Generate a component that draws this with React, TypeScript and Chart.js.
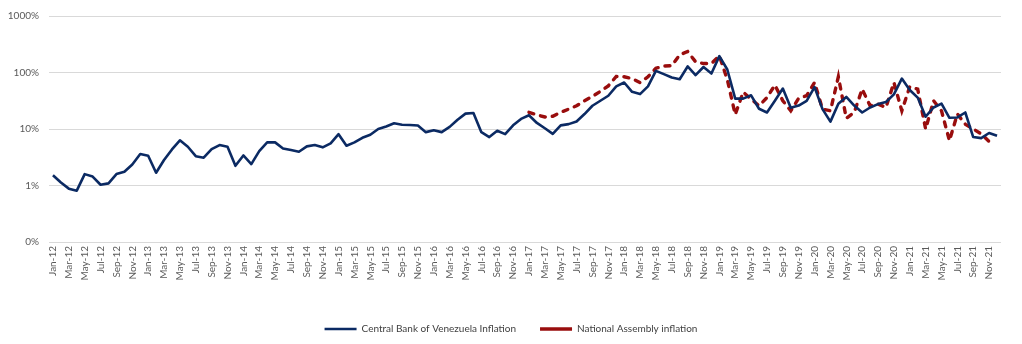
import React, { useEffect, useRef } from 'react';
import { Chart, registerables } from 'chart.js';

Chart.register(...registerables);

const monthNames = ['Jan', 'Feb', 'Mar', 'Apr', 'May', 'Jun', 'Jul', 'Aug', 'Sep', 'Oct', 'Nov', 'Dec'];
const yearSuffixes = ['12', '13', '14', '15', '16', '17', '18', '19', '20', '21'];
const categories: string[] = yearSuffixes.flatMap((y) => monthNames.map((m) => `${m}-${y}`));

// Monthly inflation, % (log scale)
const centralBankInflation: number[] = [
  1.52, 1.13, 0.88, 0.81, 1.59, 1.44, 1.03, 1.09, 1.59, 1.75, 2.36, 3.6,
  3.36, 1.68, 2.82, 4.35, 6.3, 4.85, 3.3, 3.1, 4.4, 5.2, 4.85, 2.23,
  3.4, 2.39, 4.07, 5.8, 5.8, 4.53, 4.24, 3.96, 4.93, 5.2, 4.73, 5.56,
  8.1, 5.06, 5.8, 7.0, 7.9, 10.0, 11.1, 12.6, 11.9, 11.8, 11.5, 8.8,
  9.5, 8.8, 10.9, 14.6, 18.7, 19.2, 8.8, 7.2, 9.3, 8.1, 11.6, 15.1,
  17.5, 12.8, 10.3, 8.2, 11.6, 12.2, 13.6, 18.4, 25.8, 31.6, 38.8, 56.7,
  66.5, 45.5, 41.5, 56.7, 107, 93.5, 81.5, 76, 128, 90, 125, 96,
  195, 113, 34.5, 34.5, 39.5, 22.8, 19.6, 31.6, 52, 23.7, 26, 31.5,
  55, 22.5, 13.5, 28, 37, 26, 19.6, 24, 27.6, 30, 41, 78,
  49, 36, 16.5, 24, 28.2, 15.8, 16, 19.6, 7.2, 6.9, 8.5, 7.6,
];

const nationalAssemblyInflation: (number | null)[] = [
  null, null, null, null, null, null, null, null, null, null, null, null,
  null, null, null, null, null, null, null, null, null, null, null, null,
  null, null, null, null, null, null, null, null, null, null, null, null,
  null, null, null, null, null, null, null, null, null, null, null, null,
  null, null, null, null, null, null, null, null, null, null, null, null,
  19.7, 17.8, 16.3, 16.8, 19.7, 22.5, 25.8, 31.6, 37.8, 46.2, 58, 85,
  84, 78, 66.5, 84, 119, 130, 132, 205, 235, 155, 144, 144,
  197, 75, 18, 45, 33.8, 25.8, 36, 60, 31.6, 21, 35, 38.8,
  66.5, 22.5, 21, 84, 15.5, 19.7, 50.8, 25.8, 27.6, 24, 66.5, 21,
  56, 50.8, 10, 31.6, 21, 6.2, 18.4, 12.2, 10, 8.2, 6.0, null,
];

const yTickValues = [0.1, 1, 10, 100, 1000];

const FONT = 'Lato, "Liberation Sans", sans-serif';
const TEXT = '#595959';

export default function App() {
  const canvasRef = useRef<HTMLCanvasElement | null>(null);

  useEffect(() => {
    if (!canvasRef.current) return;
    const chart = new Chart(canvasRef.current, {
      type: 'line',
      data: {
        labels: categories,
        datasets: [
          {
            label: 'Central Bank of Venezuela Inflation',
            data: centralBankInflation,
            borderColor: '#0b2a63',
            backgroundColor: '#0b2a63',
            borderWidth: 2.6,
            pointRadius: 0,
            tension: 0,
            borderJoinStyle: 'round',
          },
          {
            label: 'National Assembly inflation',
            data: nationalAssemblyInflation,
            borderColor: '#990d0d',
            backgroundColor: '#990d0d',
            borderWidth: 3.4,
            borderDash: [5, 7],
            borderCapStyle: 'round',
            pointRadius: 0,
            tension: 0,
            spanGaps: false,
          },
        ],
      },
      options: {
        animation: false,
        responsive: true,
        maintainAspectRatio: false,
        layout: { padding: { top: 14, right: 0, left: 0, bottom: 0 } },
        plugins: {
          tooltip: { enabled: false },
          legend: {
            position: 'bottom',
            labels: {
              usePointStyle: true,
              pointStyle: 'line',
              pointStyleWidth: 32,
              padding: 24,
              color: '#404040',
              font: { family: FONT, size: 10 },
            },
          },
        },
        scales: {
          x: {
            type: 'category',
            offset: true,
            grid: { display: false, drawTicks: false },
            border: { display: false },
            ticks: {
              autoSkip: false,
              minRotation: 90,
              maxRotation: 90,
              padding: 4,
              color: TEXT,
              font: { family: FONT, size: 10 },
              callback: (_v: any, i: number) => (i % 2 === 0 ? categories[i] : ''),
            },
            afterFit: (axis: any) => {
              const lh = axis.chart.legend ? axis.chart.legend.height : 47;
              axis.height = 344 - 242 - lh;
            },
          },
          y: {
            type: 'logarithmic',
            min: 0.1,
            max: 1000,
            grid: { color: '#d9d9d9', lineWidth: 1, drawTicks: false },
            border: { display: false },
            afterBuildTicks: (axis: any) => {
              axis.ticks = yTickValues.map((v) => ({ value: v }));
            },
            afterFit: (axis: any) => {
              axis.width = 49;
            },
            ticks: {
              padding: 10,
              color: TEXT,
              font: { family: FONT, size: 10 },
              callback: (v: any) => (Number(v) < 1 ? '0%' : `${Number(v)}%`),
            },
          },
          spacer: {
            type: 'linear',
            position: 'right',
            display: true,
            grid: { display: false, drawTicks: false },
            border: { display: false },
            ticks: { display: false },
            afterFit: (axis: any) => {
              axis.width = 21;
            },
          },
        },
      },
    });
    return () => chart.destroy();
  }, []);

  return (
    <div style={{ position: 'fixed', left: 0, top: 0, width: 1022, height: 344, background: '#fff' }}>
      <canvas ref={canvasRef} />
    </div>
  );
}
